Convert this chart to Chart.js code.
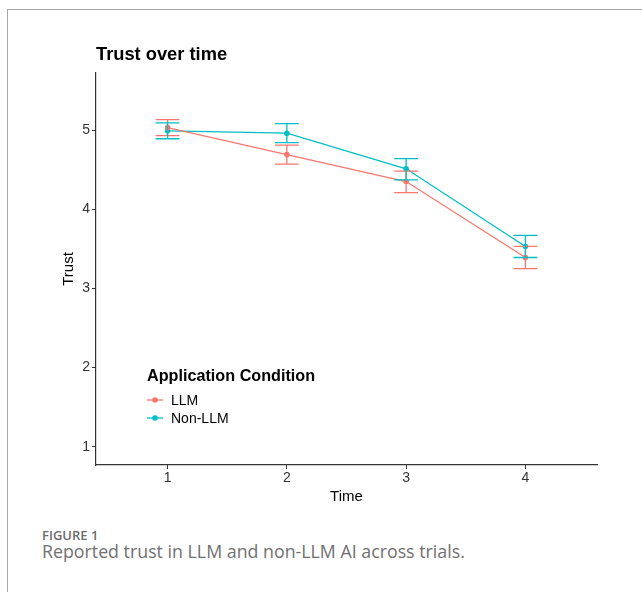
<!DOCTYPE html>
<html>
<head>
<meta charset="utf-8">
<script src="https://cdn.jsdelivr.net/npm/chart.js@4.4.1/dist/chart.umd.min.js"></script>
<style>
  body { margin: 0; background: #fff; }
  #wrap { position: relative; width: 642px; height: 592px; overflow: hidden; }
  #frame { position: absolute; left: 7px; top: 9px; width: 700px; height: 700px;
           border-left: 1px solid #a8a8a8; border-top: 1px solid #a8a8a8; }
  #myChart { position: absolute; left: 0; top: 0; }
  #title { position: absolute; left: 96px; top: 43px; font: bold 18.3px "Liberation Sans", Arial, sans-serif; color: #000; }
  #legend { position: absolute; left: 147px; top: 366px; font-family: "Liberation Sans", Arial, sans-serif; }
  #legend .lt { font-weight: bold; font-size: 16.2px; margin-bottom: 6px; }
  #legend .it { font-size: 14px; color: #000; height: 18px; line-height: 18px; }
  #legend svg { vertical-align: middle; margin-right: 8px; position: relative; top: -1px; }
  #fig { position: absolute; left: 42px; top: 526px; font: 600 13px "Open Sans", sans-serif; color: #6b6b6b; }
  #cap { position: absolute; left: 42px; top: 539px; font: 400 17.8px "Open Sans", sans-serif; color: #707070; }
</style>
</head>
<body>
<div id="wrap">
  <div id="frame"></div>
  <canvas id="myChart" width="642" height="510"></canvas>
  <div id="title">Trust over time</div>
  <div id="legend"></div>
  <div id="fig">FIGURE 1</div>
  <div id="cap">Reported trust in LLM and non-LLM AI across trials.</div>
</div>
<script>
const times = [1, 2, 3, 4]
const yTicks = [1, 2, 3, 4, 5]
const seriesNames = ['LLM', 'Non-LLM']
const seriesColors = ['#F8766D', '#00BFC4']

const llmMean = [5.03, 4.69, 4.35, 3.39]
const llmLow = [4.93, 4.57, 4.21, 3.25]
const llmHigh = [5.13, 4.81, 4.48, 3.53]

const nonMean = [4.99, 4.96, 4.51, 3.53]
const nonLow = [4.89, 4.84, 4.37, 3.39]
const nonHigh = [5.09, 5.08, 4.64, 3.67]

const lows = [llmLow, nonLow]
const highs = [llmHigh, nonHigh]

function make_points(values){
    return times.map((t, i) => ({x: t, y: values[i]}))
}

// vertical error bars with caps, drawn through the chart scales
const errorBars = {
    id: 'errorBars',
    afterDatasetsDraw(chart){
        const ctx = chart.ctx
        const xs = chart.scales.x
        const ys = chart.scales.y
        ctx.save()
        seriesNames.forEach((name, s) => {
            ctx.strokeStyle = seriesColors[s]
            ctx.lineWidth = 1.3
            times.forEach((t, i) => {
                const px = xs.getPixelForValue(t)
                const lo = ys.getPixelForValue(lows[s][i])
                const hi = ys.getPixelForValue(highs[s][i])
                const half = xs.getPixelForValue(t + 0.1) - px
                ctx.beginPath()
                ctx.moveTo(px, lo); ctx.lineTo(px, hi)
                ctx.moveTo(px - half, lo); ctx.lineTo(px + half, lo)
                ctx.moveTo(px - half, hi); ctx.lineTo(px + half, hi)
                ctx.stroke()
            })
        })
        ctx.restore()
    }
}

const axisFont = {family: 'Liberation Sans', size: 14}
const titleFont = {family: 'Liberation Sans', size: 15}

const config = {
    type: 'line',
    data: {
        datasets: [
            {label: seriesNames[0], data: make_points(llmMean), borderColor: seriesColors[0], backgroundColor: seriesColors[0]},
            {label: seriesNames[1], data: make_points(nonMean), borderColor: seriesColors[1], backgroundColor: seriesColors[1]}
        ].map(d => Object.assign(d, {borderWidth: 1.3, pointRadius: 2.8, pointBorderWidth: 0, tension: 0}))
    },
    options: {
        responsive: false,
        animation: false,
        devicePixelRatio: 1,
        layout: {padding: {top: 73, right: 45, left: 0, bottom: 0}},
        plugins: {legend: {display: false}, tooltip: {enabled: false}},
        scales: {
            x: {
                type: 'linear',
                min: 0.4, max: 4.6,
                afterFit: s => { s.height = 45 },
                afterBuildTicks: s => { s.ticks = times.map(v => ({value: v})) },
                grid: {drawOnChartArea: false, drawTicks: true, tickLength: 4, color: '#333'},
                border: {display: true, color: '#333', width: 1.2},
                ticks: {color: '#333', font: axisFont, padding: 1},
                title: {display: true, text: 'Time', color: '#000', font: titleFont, padding: {top: 0, bottom: 4}}
            },
            y: {
                min: 0.77, max: 5.72,
                afterFit: s => { s.width = 96 },
                afterBuildTicks: s => { s.ticks = yTicks.map(v => ({value: v})) },
                grid: {drawOnChartArea: false, drawTicks: true, tickLength: 4, color: '#333'},
                border: {display: true, color: '#333', width: 1.2},
                ticks: {color: '#333', font: axisFont, padding: 2},
                title: {display: true, text: 'Trust', color: '#000', font: titleFont, padding: {top: 60, bottom: 0}}
            }
        }
    },
    plugins: [errorBars]
}

var myChart = new Chart(document.getElementById('myChart'), config)

// legend placed inside the plot like the original
var legend = document.getElementById('legend')
var html = '<div class="lt">Application Condition</div>'
seriesNames.forEach((name, s) => {
    html += '<div class="it"><svg width="16" height="8"><line x1="0" y1="4" x2="16" y2="4" stroke="' + seriesColors[s] +
        '" stroke-width="1.3"/><circle cx="8" cy="4" r="2.8" fill="' + seriesColors[s] + '"/></svg>' + name + '</div>'
})
legend.innerHTML = html
</script>
</body>
</html>
